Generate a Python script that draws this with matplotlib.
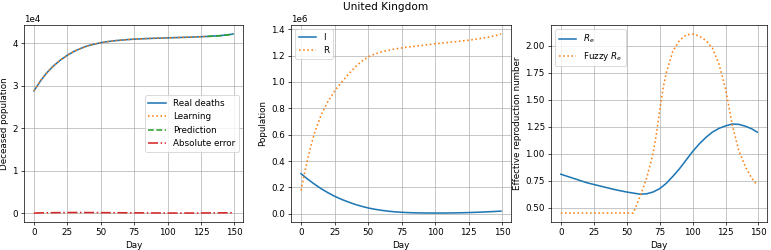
import numpy as np
import matplotlib.pyplot as plt

# day grid for all series
days = [0, 5, 10, 15, 20, 25, 30, 35, 40, 45, 50, 55, 60, 65, 70, 75, 80,
        85, 90, 95, 100, 105, 110, 115, 120, 125, 130, 135, 140, 145, 149]

deaths = [28800, 31200, 33200, 34800, 36100, 37200, 38100, 38800, 39400,
          39800, 40150, 40400, 40600, 40750, 40880, 40980, 41060, 41130,
          41190, 41240, 41290, 41340, 41390, 41440, 41500, 41560, 41630,
          41720, 41840, 42000, 42200]
learn_days = days[:27]
learning = deaths[:27]
pred_days = [130, 135, 140, 145, 149]
prediction = [41630, 41700, 41810, 41980, 42210]
abs_error = [20, 60, 90, 110, 130, 140, 150, 150, 140, 130, 120, 110, 100,
             90, 80, 70, 60, 50, 40, 30, 25, 20, 20, 20, 30, 40, 50, 60, 70,
             80, 90]

infected = [304000, 262000, 225000, 190000, 160000, 133000, 110000, 90000,
            72000, 57000, 44000, 34000, 26000, 19500, 14500, 11000, 8500,
            7000, 6000, 5500, 5300, 5400, 5800, 6600, 7600, 9000, 10800,
            12800, 15000, 17500, 20000]
r_days = [0, 2.5, 5, 7.5, 10, 15, 20, 25, 30, 35, 40, 45, 50, 55, 60, 65, 70,
          75, 80, 85, 90, 95, 100, 105, 110, 115, 120, 125, 130, 135, 140,
          145, 149]
recovered = [177000, 300000, 415000, 520000, 610000, 750000, 850000, 930000,
             995000, 1055000, 1110000, 1155000, 1190000, 1212000, 1228000,
             1240000, 1250000, 1258000, 1265000, 1271000, 1277000, 1283000,
             1290000, 1295000, 1300000, 1305000, 1311000, 1317000, 1324000,
             1332000, 1341000, 1352000, 1364000]

re_days = days
re_vals = [0.81, 0.79, 0.77, 0.75, 0.73, 0.715, 0.70, 0.685, 0.67, 0.657,
           0.645, 0.635, 0.625, 0.628, 0.645, 0.676, 0.725, 0.79, 0.86, 0.94,
           1.02, 1.09, 1.15, 1.20, 1.235, 1.258, 1.275, 1.272, 1.255, 1.23,
           1.20]
fuzzy_days = [0, 5, 10, 15, 20, 25, 30, 35, 40, 45, 50, 55, 60, 65, 70, 72.5,
              75, 77.5, 80, 85, 90, 95, 100, 105, 110, 115, 120, 122.5, 125,
              127.5, 130, 135, 140, 145, 149]
fuzzy_re = [0.45, 0.45, 0.45, 0.45, 0.45, 0.45, 0.45, 0.45, 0.45, 0.45, 0.45,
            0.45, 0.60, 0.77, 1.00, 1.18, 1.40, 1.60, 1.75, 1.95, 2.05, 2.10,
            2.11, 2.09, 2.05, 1.98, 1.83, 1.72, 1.60, 1.44, 1.27, 1.03, 0.88,
            0.77, 0.71]

# the original looks like a default-size figure shrunk to ~60 %,
# so draw at a low dpi on a bigger canvas to keep the default proportions
W, H = 771, 250
DPI = 63
plt.rcParams['lines.linewidth'] = 1.8
fig = plt.figure(figsize=(W / DPI, H / DPI), dpi=DPI)


def box(x0, x1, y0=25, y1=222):
    return [x0 / W, 1 - y1 / H, (x1 - x0) / W, (y1 - y0) / H]


ax1 = fig.add_axes(box(24, 243))
ax2 = fig.add_axes(box(291, 511))
ax3 = fig.add_axes(box(551, 767))

ax1.plot(days, deaths, '-', label='Real deaths')
ax1.plot(learn_days, learning, ':', label='Learning')
ax1.plot(pred_days, prediction, '--', label='Prediction')
ax1.plot(days, abs_error, '-.', label='Absolute error')
ax1.ticklabel_format(axis='y', style='sci', scilimits=(0, 0))
ax1.set_ylabel('Deceased population')
ax1.legend(loc='center right')

ax2.plot(days, infected, '-', label='I')
ax2.plot(r_days, recovered, ':', label='R')
ax2.ticklabel_format(axis='y', style='sci', scilimits=(0, 0))
ax2.set_ylabel('Population')
ax2.legend(loc='upper left')

ax3.plot(re_days, re_vals, '-', label='$R_e$')
ax3.plot(fuzzy_days, fuzzy_re, ':', label='Fuzzy $R_e$')
ax3.set_ylabel('Effective reproduction number')
ax3.legend(loc='upper left')

for ax in (ax1, ax2, ax3):
    ax.set_xlabel('Day')
    ax.set_xticks([0, 25, 50, 75, 100, 125, 150])
    ax.grid()

fig.text(0.5, 0.99, 'United Kingdom', ha='center', va='top', fontsize=12)
fig.savefig('out.png', dpi=DPI)
